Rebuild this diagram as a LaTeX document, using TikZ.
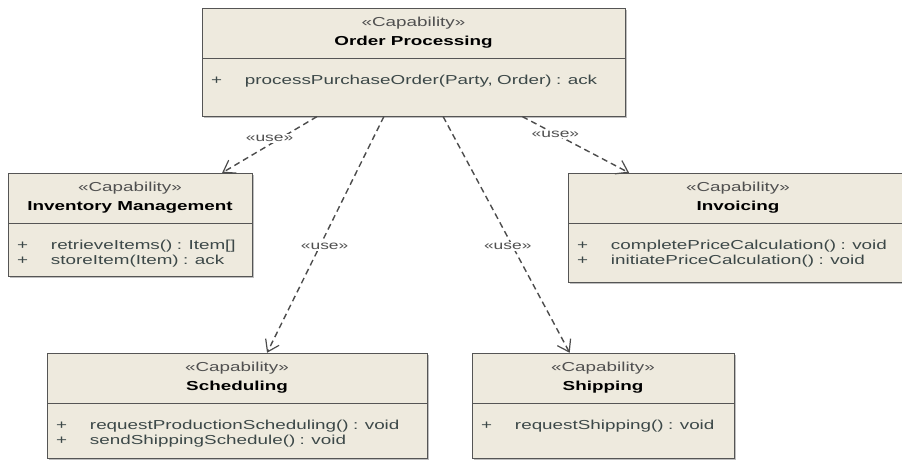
\documentclass[tikz,border=0pt]{standalone}
\usepackage{fontspec}
\newfontfamily\umlfont[FakeStretch=1.45]{Liberation Sans}
\usetikzlibrary{shadows}
\usetikzlibrary{arrows.meta}
\usetikzlibrary{calc,positioning}

\definecolor{capfill}{RGB}{238,234,222}
\definecolor{capline}{RGB}{85,85,85}
\definecolor{optext}{RGB}{60,72,72}
\definecolor{deptext}{RGB}{80,80,80}

\newcommand{\op}[1]{\makebox[37pt][l]{\hspace{3pt}+}#1}
\newcommand{\capa}[1]{{\color{deptext}«Capability»}\\\textbf{#1}}

\begin{document}
\begin{tikzpicture}[x=1pt,y=1pt,
    cap head/.style={
        draw=capline, fill=capfill, minimum width=#1, minimum height=50pt,
        inner sep=0pt, align=center,
        font=\umlfont\fontsize{13}{19}\selectfont,
        drop shadow={shadow xshift=2pt, shadow yshift=-2pt, fill=black!50}
    },
    cap ops/.style 2 args={
        draw=capline, fill=capfill, minimum width=#1, text width=#1-12pt,
        inner xsep=6pt, inner ysep=0pt, text height=26pt, text depth=#2,
        align=left, text=optext,
        font=\umlfont\fontsize{13}{15}\selectfont,
        drop shadow={shadow xshift=2pt, shadow yshift=-2pt, fill=black!50}
    },
    dependency/.style={
        draw=capline!90!black, line width=1.4pt, dash pattern=on 6pt off 4pt,
        -{Straight Barb[length=11pt,width=15pt,line width=1.2pt]}
    },
    dep label/.style={
        font=\umlfont\fontsize{12}{12}\selectfont, text=deptext,
        fill=white, inner sep=1pt
    }
]

\fill[white] (0,0) rectangle (902,461);
\clip (0,0) rectangle (902,461);

%%% capabilities
\node[cap head=423pt] (order) at (413.5,428) {\capa{Order Processing}};
\node[cap ops={423pt}{32pt}, below=0pt of order] (order ops)
    {\op{processPurchaseOrder(Party, Order) : ack}};

\node[cap head=244pt] (inventory) at (130,263) {\capa{Inventory Management}};
\node[cap ops={244pt}{27pt}, below=0pt of inventory] (inventory ops)
    {\op{retrieveItems() : Item[]}\\ \op{storeItem(Item) : ack}};

\node[cap head=340pt] (invoicing) at (738,263) {\capa{Invoicing}};
\node[cap ops={340pt}{33pt}, below=0pt of invoicing] (invoicing ops)
    {\op{completePriceCalculation() : void}\\ \op{initiatePriceCalculation() : void}};

\node[cap head=380pt] (scheduling) at (237,83) {\capa{Scheduling}};
\node[cap ops={380pt}{29pt}, below=0pt of scheduling] (scheduling ops)
    {\op{requestProductionScheduling() : void}\\ \op{sendShippingSchedule() : void}};

\node[cap head=262pt] (shipping) at (603,83) {\capa{Shipping}};
\node[cap ops={262pt}{29pt}, below=0pt of shipping] (shipping ops)
    {\op{requestShipping() : void}};

%%% use dependencies
\draw[dependency] ($(order ops.south west)!.272!(order ops.south east)$)
    -- node[dep label, pos=.5, above=1pt]{«use»}
    ($(inventory.north west)!.877!(inventory.north east)$);
\draw[dependency] ($(order ops.south west)!.43!(order ops.south east)$)
    -- node[dep label, pos=.55, xshift=5pt]{«use»}
    ($(scheduling.north west)!.579!(scheduling.north east)$);
\draw[dependency] ($(order ops.south west)!.57!(order ops.south east)$)
    -- node[dep label, pos=.55, xshift=-5pt]{«use»}
    ($(shipping.north west)!.373!(shipping.north east)$);
\draw[dependency] ($(order ops.south west)!.757!(order ops.south east)$)
    -- node[dep label, pos=.31]{«use»}
    ($(invoicing.north west)!.18!(invoicing.north east)$);

\end{tikzpicture}
\end{document}
